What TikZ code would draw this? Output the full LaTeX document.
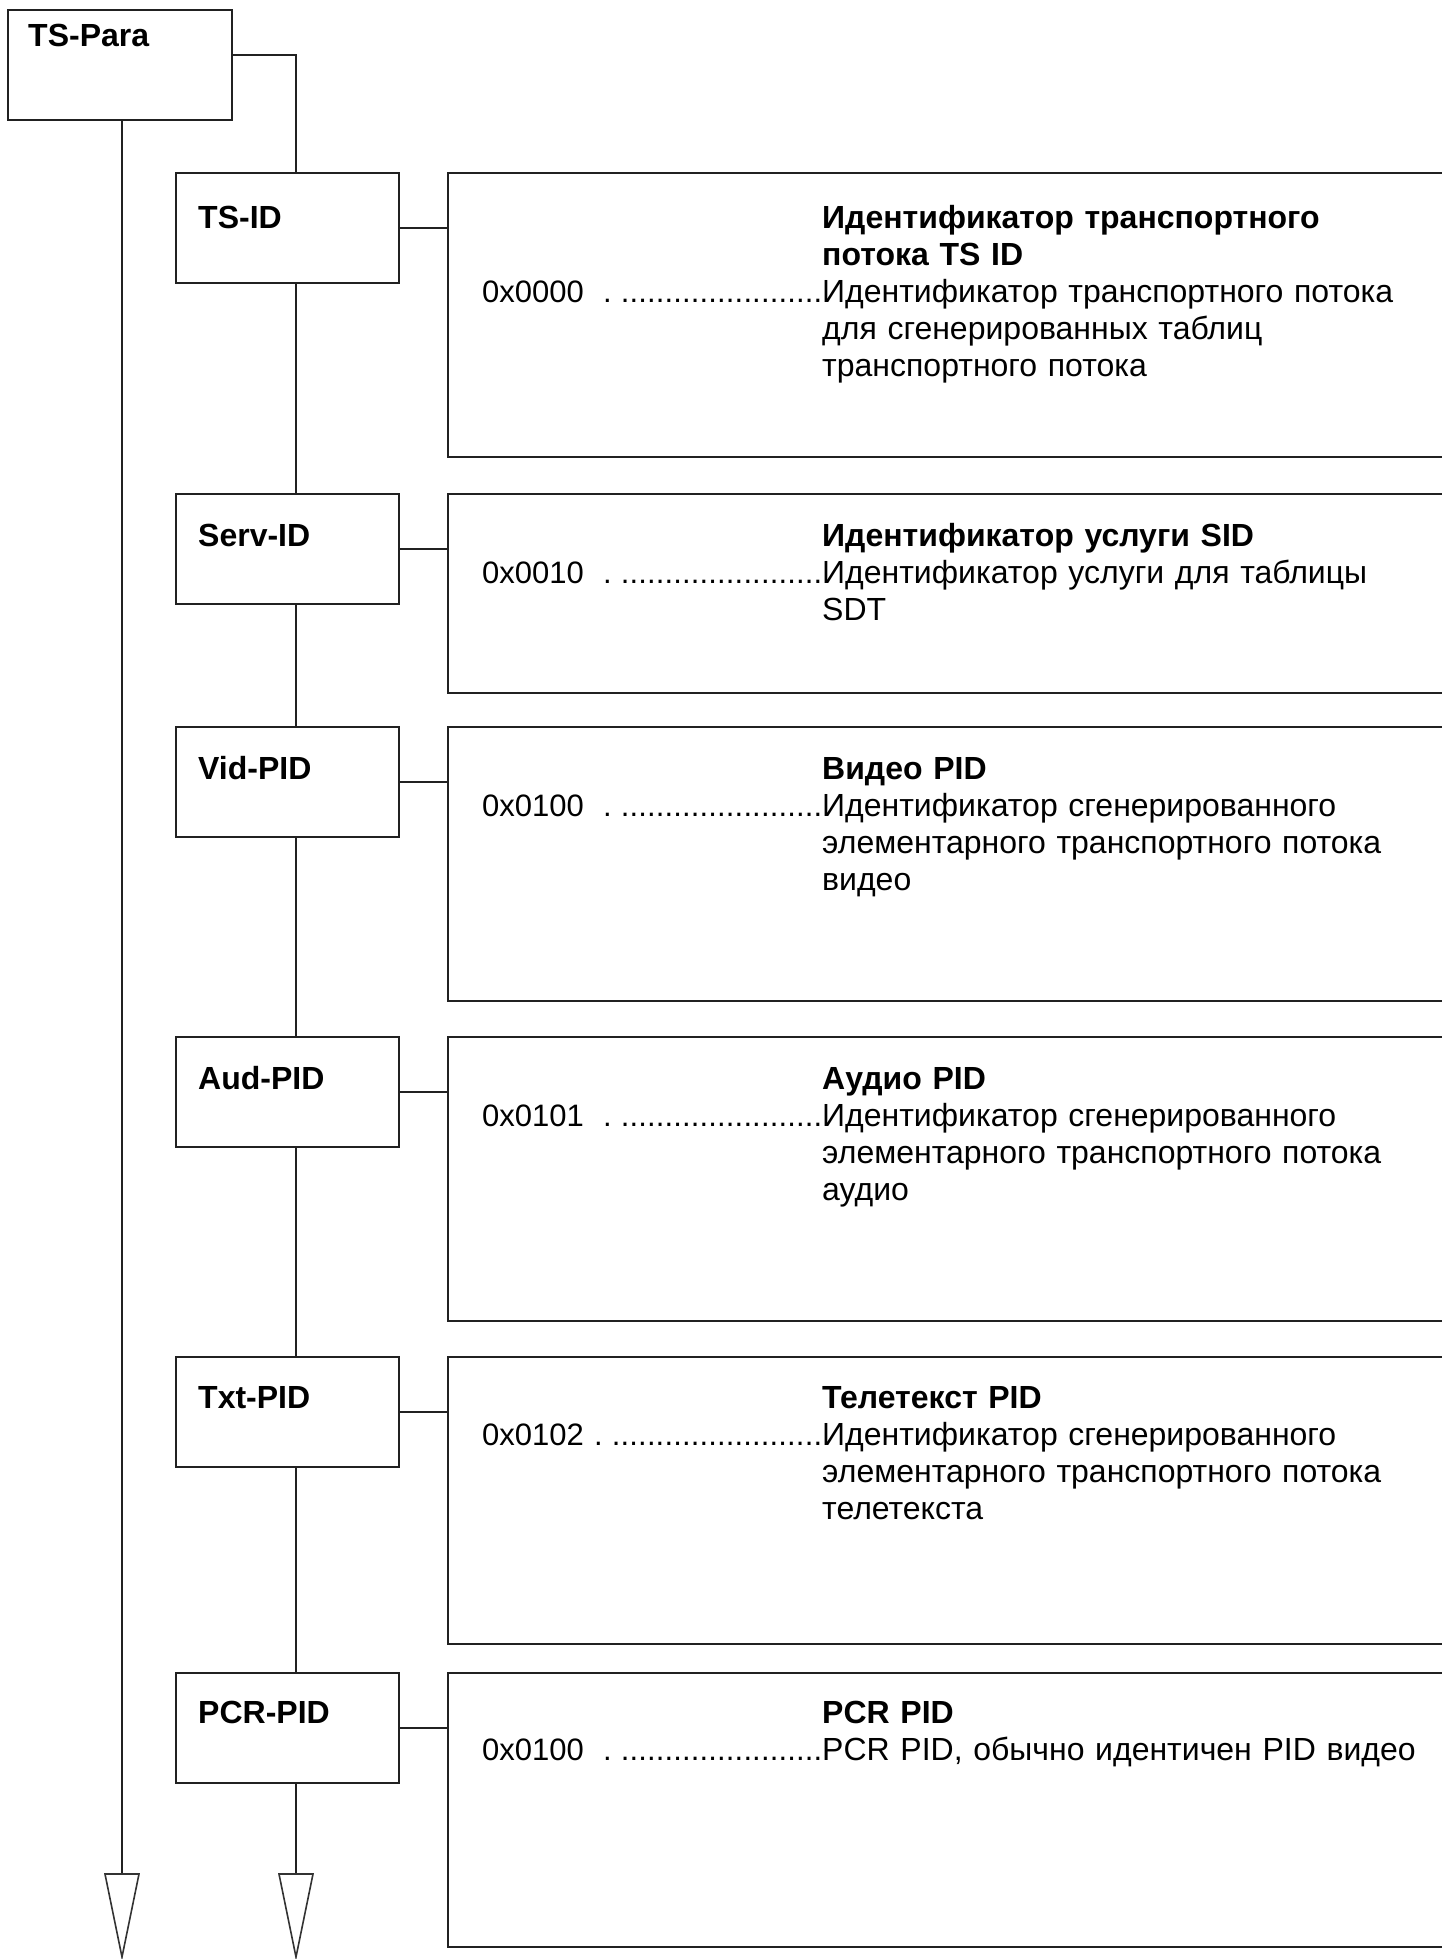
\documentclass[tikz,border=0pt]{standalone}
\usepackage{fontspec}
\setmainfont{Liberation Sans}
\begin{document}
\begin{tikzpicture}[x=1pt,y=-1pt,
  box/.style={draw=black!87, line width=2.8pt, inner sep=0pt, outer sep=0pt, anchor=north west, minimum width=223pt, minimum height=110pt},
  dbox/.style={draw=black!87, line width=2.8pt, inner sep=0pt, outer sep=0pt, anchor=north west, minimum width=1040pt},
  lbl/.style={font=\fontsize{32}{37}\selectfont\bfseries, anchor=base west, inner sep=0pt},
  hd/.style={font=\fontsize{32}{37}\selectfont\bfseries, anchor=base west, inner sep=0pt, text width=600pt, align=left},
  txt/.style={font=\fontsize{32}{37}\selectfont, anchor=base west, inner sep=0pt, text width=600pt, align=left},
  val/.style={font=\fontsize{31}{37}\selectfont, anchor=base west, inner sep=0pt},
  wire/.style={draw=black!87, line width=2.8pt},
  tip/.style={draw=black!80, line width=1.6pt, fill=white, line join=miter}]
\useasboundingbox (0,0) rectangle (1442,1959);
\clip (0,0) rectangle (1442,1959);

% coordinates for the two long lines
\coordinate (a1) at (122,1874);
\coordinate (a2) at (296,1874);

% main box
\node[box, minimum width=224pt] (tspara) at (8,10) {};
\node[lbl] (tsparal) at (28,47) {TS-Para};

% left boxes
\node[box] (tsid) at (176,173) {};
\node[lbl] (tsidl) at (198,228) {TS-ID};
\node[box] (serv) at (176,494) {};
\node[lbl] (servl) at (198,546) {Serv-ID};
\node[box] (vid) at (176,727) {};
\node[lbl] (vidl) at (198,779) {Vid-PID};
\node[box] (aud) at (176,1037) {};
\node[lbl] (audl) at (198,1089) {Aud-PID};
\node[box] (txt) at (176,1357) {};
\node[lbl] (txtl) at (198,1408) {Txt-PID};
\node[box] (pcr) at (176,1673) {};
\node[lbl] (pcrl) at (198,1723) {PCR-PID};

% description boxes
\node[dbox, minimum height=284pt] (d1) at (448,173) {};
\node[dbox, minimum height=199pt] (d2) at (448,494) {};
\node[dbox, minimum height=274pt] (d3) at (448,727) {};
\node[dbox, minimum height=284pt] (d4) at (448,1037) {};
\node[dbox, minimum height=287pt] (d5) at (448,1357) {};
\node[dbox, minimum height=274pt] (d6) at (448,1673) {};

% texts 1
\node[hd] (h1) at (822,228) {Идентификатор транспортного\\потока TS ID};
\node[val] (v1) at (482,302) {\hbox to 340pt{\rlap{0x0000}\hskip 121pt.\hskip 9pt\xleaders\hbox{.}\hfill}};
\node[txt] (t1) at (822,302) {Идентификатор транспортного потока\\для сгенерированных таблиц\\транспортного потока};
% texts 2
\node[hd] (h2) at (822,546) {Идентификатор услуги SID};
\node[val] (v2) at (482,583) {\hbox to 340pt{\rlap{0x0010}\hskip 121pt.\hskip 9pt\xleaders\hbox{.}\hfill}};
\node[txt] (t2) at (822,583) {Идентификатор услуги для таблицы\\SDT};
% texts 3
\node[hd] (h3) at (822,779) {Видео PID};
\node[val] (v3) at (482,816) {\hbox to 340pt{\rlap{0x0100}\hskip 121pt.\hskip 9pt\xleaders\hbox{.}\hfill}};
\node[txt] (t3) at (822,816) {Идентификатор сгенерированного\\элементарного транспортного потока\\видео};
% texts 4
\node[hd] (h4) at (822,1089) {Аудио PID};
\node[val] (v4) at (482,1126) {\hbox to 340pt{\rlap{0x0101}\hskip 121pt.\hskip 9pt\xleaders\hbox{.}\hfill}};
\node[txt] (t4) at (822,1126) {Идентификатор сгенерированного\\элементарного транспортного потока\\аудио};
% texts 5
\node[hd] (h5) at (822,1408) {Телетекст PID};
\node[val] (v5) at (482,1445) {\hbox to 340pt{\rlap{0x0102}\hskip 112pt.\hskip 9pt\xleaders\hbox{.}\hfill}};
\node[txt] (t5) at (822,1445) {Идентификатор сгенерированного\\элементарного транспортного потока\\телетекста};
% texts 6
\node[hd] (h6) at (822,1723) {PCR PID};
\node[val] (v6) at (482,1760) {\hbox to 340pt{\rlap{0x0100}\hskip 121pt.\hskip 9pt\xleaders\hbox{.}\hfill}};
\node[txt] (t6) at (822,1760) {PCR PID, обычно идентичен PID видео};

% connectors
\draw[wire] ([yshift=-45pt]tspara.north east) -| (a2 |- tsid.north);
\draw[wire] (a1 |- tspara.south) -- (a1);
\draw[wire] (a2 |- tsid.south) -- (a2 |- serv.north);
\draw[wire] (a2 |- serv.south) -- (a2 |- vid.north);
\draw[wire] (a2 |- vid.south) -- (a2 |- aud.north);
\draw[wire] (a2 |- aud.south) -- (a2 |- txt.north);
\draw[wire] (a2 |- txt.south) -- (a2 |- pcr.north);
\draw[wire] (a2 |- pcr.south) -- (a2);
\draw[wire] (tsid.east) -- (tsid.east -| d1.west);
\draw[wire] (serv.east) -- (serv.east -| d2.west);
\draw[wire] (vid.east) -- (vid.east -| d3.west);
\draw[wire] (aud.east) -- (aud.east -| d4.west);
\draw[wire] (txt.east) -- (txt.east -| d5.west);
\draw[wire] (pcr.east) -- (pcr.east -| d6.west);

% open arrowheads
\draw[tip] (a1) ++(-17,0) -- ++(34,0) -- ++(-17,83) -- cycle;
\draw[tip] (a2) ++(-17,0) -- ++(34,0) -- ++(-17,83) -- cycle;
\end{tikzpicture}
\end{document}
